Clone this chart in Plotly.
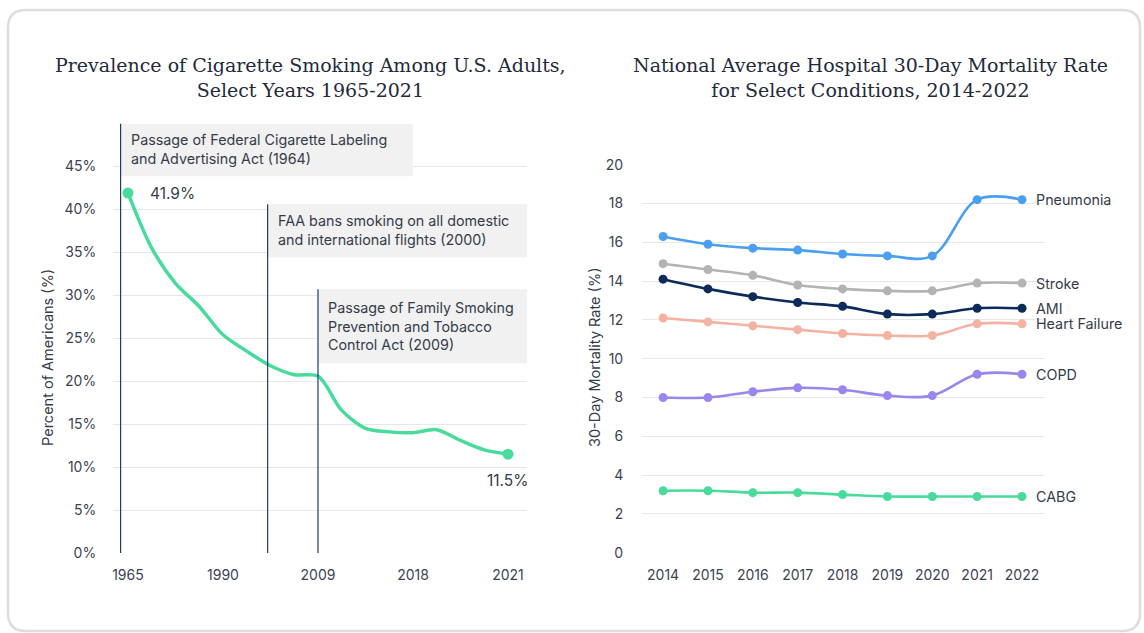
import plotly.graph_objects as go

W, H = 1144, 633

# ---------------- Data: left chart (smoking prevalence) ----------------
smoke_pos = [0, 1, 2, 3, 4, 5, 6, 7, 8, 9, 10, 11, 12, 13, 14, 15, 16]
smoke_vals = [41.9, 35.5, 31.4, 28.7, 25.4, 23.5, 21.8, 20.75, 20.6, 16.6,
              14.5, 14.1, 14.0, 14.35, 13.1, 12.0, 11.5]
smoke_tick_pos = [0, 4, 8, 12, 16]
smoke_tick_labels = ["1965", "1990", "2009", "2018", "2021"]
smoke_yticks = [0, 5, 10, 15, 20, 25, 30, 35, 40, 45]

event_x = [-0.31, 5.88, 8.0]
event_box_top = [50.0, 40.6, 30.7]
event_box_bottom = [43.85, 34.4, 22.05]
event_box_right = [12.0, 16.8, 16.8]
event_text = [
    "Passage of Federal Cigarette Labeling<br>and Advertising Act (1964)",
    "FAA bans smoking on all domestic<br>and international flights (2000)",
    "Passage of Family Smoking<br>Prevention and Tobacco<br>Control Act (2009)",
]

# ---------------- Data: right chart (30-day mortality) ----------------
years = [2014, 2015, 2016, 2017, 2018, 2019, 2020, 2021, 2022]
pneumonia = [16.3, 15.9, 15.7, 15.6, 15.4, 15.3, 15.3, 18.2, 18.2]
stroke = [14.9, 14.6, 14.3, 13.8, 13.6, 13.5, 13.5, 13.9, 13.9]
ami = [14.1, 13.6, 13.2, 12.9, 12.7, 12.3, 12.3, 12.6, 12.6]
heart_failure = [12.1, 11.9, 11.7, 11.5, 11.3, 11.2, 11.2, 11.8, 11.8]
copd = [8.0, 8.0, 8.3, 8.5, 8.4, 8.1, 8.1, 9.2, 9.2]
cabg = [3.2, 3.2, 3.1, 3.1, 3.0, 2.9, 2.9, 2.9, 2.9]
series_names = ["Pneumonia", "Stroke", "AMI", "Heart Failure", "COPD", "CABG"]
series_vals = [pneumonia, stroke, ami, heart_failure, copd, cabg]
series_colors = ["#4a9ff0", "#b3b3b3", "#0c2b5a", "#f4b2a2", "#9a86ee", "#48db9c"]
mort_yticks = [0, 2, 4, 6, 8, 10, 12, 14, 16, 18, 20]

GREEN = "#48db9c"
TEXT = "#343c4a"
TICK = "#3b4352"
GRID = "#e7e7e7"
NAVY = "#1e3a6e"
SANS = "Inter"


def px(x):
    return x / W


def py(y):
    return 1 - y / H


fig = go.Figure()

# Left line
fig.add_trace(go.Scatter(
    x=smoke_pos, y=smoke_vals, mode="lines",
    line=dict(color=GREEN, width=3.5, shape="spline", smoothing=0.8),
    xaxis="x", yaxis="y", hoverinfo="skip", showlegend=False))
fig.add_trace(go.Scatter(
    x=[smoke_pos[0], smoke_pos[-1]], y=[smoke_vals[0], smoke_vals[-1]],
    mode="markers", marker=dict(color=GREEN, size=11),
    xaxis="x", yaxis="y", hoverinfo="skip", showlegend=False))

# Right lines
for name, vals, col in zip(series_names, series_vals, series_colors):
    fig.add_trace(go.Scatter(
        x=years, y=vals, mode="lines+markers", name=name,
        line=dict(color=col, width=2.6, shape="spline", smoothing=1.0),
        marker=dict(color=col, size=9),
        xaxis="x2", yaxis="y2", showlegend=False))

shapes = []
annotations = []

# Card border (rounded rectangle)
x0, y0, x1, y1, r = 8, 10, 1140, 631, 18


def P(x, y):
    return f"{px(x):.5f},{py(y):.5f}"


card_path = (f"M {P(x0 + r, y0)} L {P(x1 - r, y0)} Q {P(x1, y0)} {P(x1, y0 + r)} "
             f"L {P(x1, y1 - r)} Q {P(x1, y1)} {P(x1 - r, y1)} "
             f"L {P(x0 + r, y1)} Q {P(x0, y1)} {P(x0, y1 - r)} "
             f"L {P(x0, y0 + r)} Q {P(x0, y0)} {P(x0 + r, y0)} Z")
shapes.append(dict(type="path", xref="paper", yref="paper", path=card_path,
                   line=dict(color="#dddddd", width=2.5), fillcolor="rgba(0,0,0,0)",
                   layer="below"))

# Event boxes and lines
for ex, top, bot, right, txt in zip(event_x, event_box_top, event_box_bottom,
                                     event_box_right, event_text):
    shapes.append(dict(type="rect", xref="x", yref="y", x0=ex, x1=right, y0=bot, y1=top,
                       fillcolor="#f1f1f1", line=dict(width=0), layer="above"))
    shapes.append(dict(type="line", xref="x", yref="y", x0=ex, x1=ex, y0=0, y1=top,
                       line=dict(color=NAVY, width=1.2), layer="above"))
    annotations.append(dict(xref="x", yref="y", x=ex, y=(top + bot) / 2, xanchor="left",
                            yanchor="middle", xshift=8, align="left", showarrow=False,
                            text=txt, font=dict(family=SANS, size=14.3, color=TEXT)))

# End labels for left chart
annotations.append(dict(xref="x", yref="y", x=smoke_pos[0], y=smoke_vals[0],
                        text=f"{smoke_vals[0]}%", showarrow=False, xanchor="left",
                        yanchor="middle", xshift=20,
                        font=dict(family=SANS, size=15.5, color=TEXT)))
annotations.append(dict(xref="x", yref="y", x=smoke_pos[-1], y=smoke_vals[-1],
                        text=f"{smoke_vals[-1]}%", showarrow=False, xanchor="center",
                        yanchor="top", yshift=-15,
                        font=dict(family=SANS, size=15.5, color=TEXT)))

# Series labels right chart
for name, vals in zip(series_names, series_vals):
    annotations.append(dict(xref="x2", yref="y2", x=years[-1], y=vals[-1], text=name,
                            showarrow=False, xanchor="left", yanchor="middle", xshift=12,
                            font=dict(family=SANS, size=14.3, color=TEXT)))

# Titles
TITLE_FONT = dict(family="DejaVu Serif", size=19, color="#1f2a3a")
annotations.append(dict(xref="paper", yref="paper", x=px(310), y=py(77.5), showarrow=False,
                        text="Prevalence of Cigarette Smoking Among U.S. Adults,<br>Select Years 1965-2021",
                        xanchor="center", yanchor="middle", align="center", font=TITLE_FONT))
annotations.append(dict(xref="paper", yref="paper", x=px(870), y=py(77.5), showarrow=False,
                        text="National Average Hospital 30-Day Mortality Rate<br>for Select Conditions, 2014-2022",
                        xanchor="center", yanchor="middle", align="center", font=TITLE_FONT))

# Y-axis titles
annotations.append(dict(xref="paper", yref="paper", x=px(47), y=py(357), showarrow=False,
                        text="Percent of Americans (%)", textangle=-90,
                        xanchor="center", yanchor="middle",
                        font=dict(family=SANS, size=14.5, color=TEXT)))
annotations.append(dict(xref="paper", yref="paper", x=px(594), y=py(358), showarrow=False,
                        text="30-Day Mortality Rate (%)", textangle=-90,
                        xanchor="center", yanchor="middle",
                        font=dict(family=SANS, size=14.5, color=TEXT)))

tickfont = dict(family=SANS, size=14, color=TICK)

fig.update_layout(
    width=W, height=H, autosize=False,
    margin=dict(l=0, r=0, t=0, b=0, pad=0, autoexpand=False),
    paper_bgcolor="white", plot_bgcolor="white",
    shapes=shapes, annotations=annotations,
    xaxis=dict(domain=[px(113), px(527)], range=[-0.63, 16.8], tickmode="array",
               tickvals=smoke_tick_pos, ticktext=smoke_tick_labels, showgrid=False,
               zeroline=False, showline=False, ticks="outside", ticklen=9,
               tickcolor="rgba(0,0,0,0)", tickfont=tickfont, anchor="y", automargin=False),
    yaxis=dict(domain=[py(553), py(123.5)], range=[0, 50], tickmode="array",
               tickvals=smoke_yticks, ticktext=[f"{v}%" for v in smoke_yticks],
               showgrid=True, gridcolor=GRID, gridwidth=1, zeroline=False, showline=False,
               ticks="outside", ticklen=13, tickcolor="rgba(0,0,0,0)", tickfont=tickfont,
               anchor="x", automargin=False),
    xaxis2=dict(domain=[px(642), px(1044)], range=[2013.53, 2022.49], tickmode="array",
                tickvals=years, ticktext=[str(y) for y in years], showgrid=False,
                zeroline=False, showline=False, ticks="outside", ticklen=9,
                tickcolor="rgba(0,0,0,0)", tickfont=tickfont, anchor="y2", automargin=False),
    yaxis2=dict(domain=[py(552.8), py(164.7)], range=[0, 20], tickmode="array",
                tickvals=mort_yticks, showgrid=True, gridcolor=GRID, gridwidth=1,
                zeroline=False, showline=False, ticks="outside", ticklen=15,
                tickcolor="rgba(0,0,0,0)", tickfont=tickfont, anchor="x2", automargin=False),
)

fig.write_html("out.html")
